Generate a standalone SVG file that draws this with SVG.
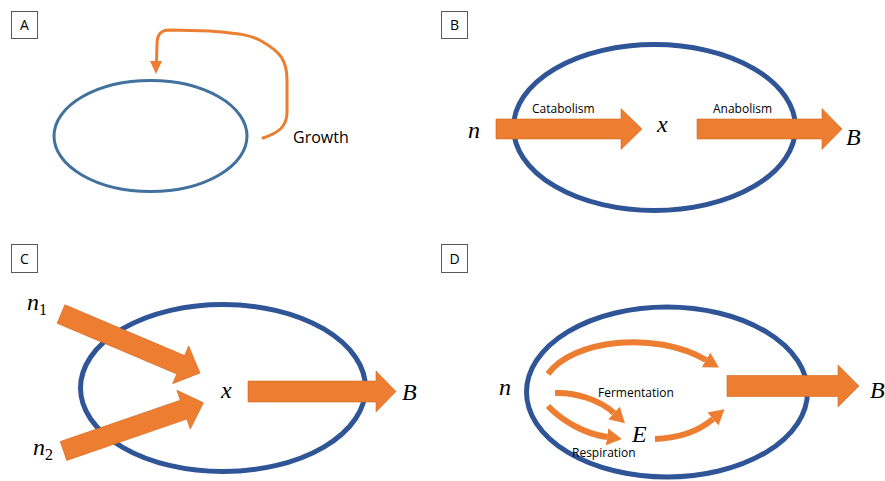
<svg xmlns="http://www.w3.org/2000/svg" width="885" height="481" viewBox="0 0 885 481">
<style>
.bg{fill:#ffffff}
.lbox{fill:#ffffff;stroke:#595959;stroke-width:1}
.ltxt{font-family:"Open Sans","Liberation Sans",sans-serif;font-size:14px;fill:#000}
.cell{fill:none;stroke:#2F5597;stroke-width:5}
.cellA{fill:none;stroke:#41719C;stroke-width:3}
.flow{fill:#ED7D31;stroke:#D2691E;stroke-width:0.6}
.curve{fill:none;stroke:#ED7D31;stroke-width:6}
.thin{fill:none;stroke:#ED7D31;stroke-width:3;stroke-linecap:round;stroke-linejoin:round}
.lab{font-family:"Open Sans","Liberation Sans",sans-serif;font-size:12px;fill:#000}
.math{font-family:"Liberation Serif","DejaVu Serif",serif;font-style:italic;font-size:24px;fill:#000}
.sub{font-family:"Liberation Serif","DejaVu Serif",serif;font-style:normal;font-size:16px}
</style>
<defs>
<marker id="head" markerUnits="userSpaceOnUse" markerWidth="16" markerHeight="20" viewBox="0 -10 16 20" refX="0" refY="0" orient="auto">
<path d="M0,-8.5 L15,0 L0,8.5 Z" fill="#ED7D31"/>
</marker>
</defs>
<rect class="bg" x="0" y="0" width="885" height="481"/>

<g id="panelA">
<g id="labelA"><rect class="lbox" x="11.5" y="11.5" width="26" height="27"/><text class="ltxt" x="24.5" y="30" text-anchor="middle">A</text></g>
<g id="cellA"><ellipse class="cellA" cx="150.5" cy="136" rx="96.5" ry="55.5"/></g>
<g id="growthLabel"><text class="lab" style="font-size:16px" x="293" y="143">Growth</text></g>
</g>

<g id="panelB">
<g id="labelB"><rect class="lbox" x="441.5" y="11.5" width="26" height="27"/><text class="ltxt" x="454.5" y="30" text-anchor="middle">B</text></g>
<g id="cellB"><ellipse class="cell" cx="654.5" cy="127.5" rx="141" ry="83"/></g>
<g id="nB"><text class="math" x="468" y="138">n</text></g>
<g id="xB"><text class="math" x="657" y="132">x</text></g>
<g id="BB"><text class="math" x="846" y="145">B</text></g>
</g>

<g id="panelC">
<g id="labelC"><rect class="lbox" x="11.5" y="244.5" width="26" height="28"/><text class="ltxt" x="24.5" y="263.5" text-anchor="middle">C</text></g>
<g id="cellC"><ellipse class="cell" cx="223" cy="388" rx="142.5" ry="83.5"/></g>
<g id="n1C"><text class="math" x="27" y="310">n<tspan class="sub" dy="5">1</tspan></text></g>
<g id="n2C"><text class="math" x="33" y="455">n<tspan class="sub" dy="5">2</tspan></text></g>
<g id="xC"><text class="math" x="221" y="398">x</text></g>
<g id="BC"><text class="math" x="402" y="400">B</text></g>
</g>

<g id="panelD">
<g id="labelD"><rect class="lbox" x="441.5" y="244.5" width="26" height="28"/><text class="ltxt" x="454.5" y="263.5" text-anchor="middle">D</text></g>
<g id="cellD"><ellipse class="cell" cx="667" cy="392" rx="140.5" ry="85"/></g>
<g id="nD"><text class="math" x="499" y="395">n</text></g>
<g id="ED"><text class="math" x="632" y="442">E</text></g>
<g id="BD"><text class="math" x="870" y="398">B</text></g>
</g>

<g id="connectors">
<path class="thin" d="M263,138 C278,133 287,127 287,112 L287,80 C287,60 280,52 263,42 C250,34 235,33 210,31 L170,30 C160,30 157,35 157,45 L156.5,62"/>
<path d="M150,61 L162,61 L156,74 Z" fill="#ED7D31"/>

<path class="flow" d="M496,119 H621 V108.5 L642,129 L621,149.5 V139 H496 Z"/>
<path class="flow" d="M697,119 H822 V108.5 L842,129 L822,149.5 V139 H697 Z"/>

<path class="flow" transform="translate(61,314) rotate(23)" d="M0,-10 H130 V-20.5 L151,0 L130,20.5 V10 H0 Z"/>
<path class="flow" transform="translate(63.5,451) rotate(-19)" d="M0,-10 H127 V-20.5 L148,0 L127,20.5 V10 H0 Z"/>
<path class="flow" d="M248,381 H376 V371 L396,391.5 L376,412 V402 H248 Z"/>

<path class="flow" d="M727,375.5 H838 V365 L859,386 L838,407 V396.5 H727 Z"/>
<path class="curve" marker-end="url(#head)" d="M548,374 C572,340 655,330 706,360"/>
<path class="curve" marker-end="url(#head)" d="M555,393 C575,392 600,400 614,413"/>
<path class="curve" marker-end="url(#head)" d="M548,406 C562,421 585,434 607,437"/>
<path class="curve" marker-end="url(#head)" d="M655,439 C680,438 700,430 713,419"/>
</g>

<g id="flowLabels">
<text class="lab" x="532" y="113">Catabolism</text>
<text class="lab" x="713" y="113">Anabolism</text>
<text class="lab" x="598" y="397">Fermentation</text>
<text class="lab" x="572" y="457">Respiration</text>
</g>
</svg>
